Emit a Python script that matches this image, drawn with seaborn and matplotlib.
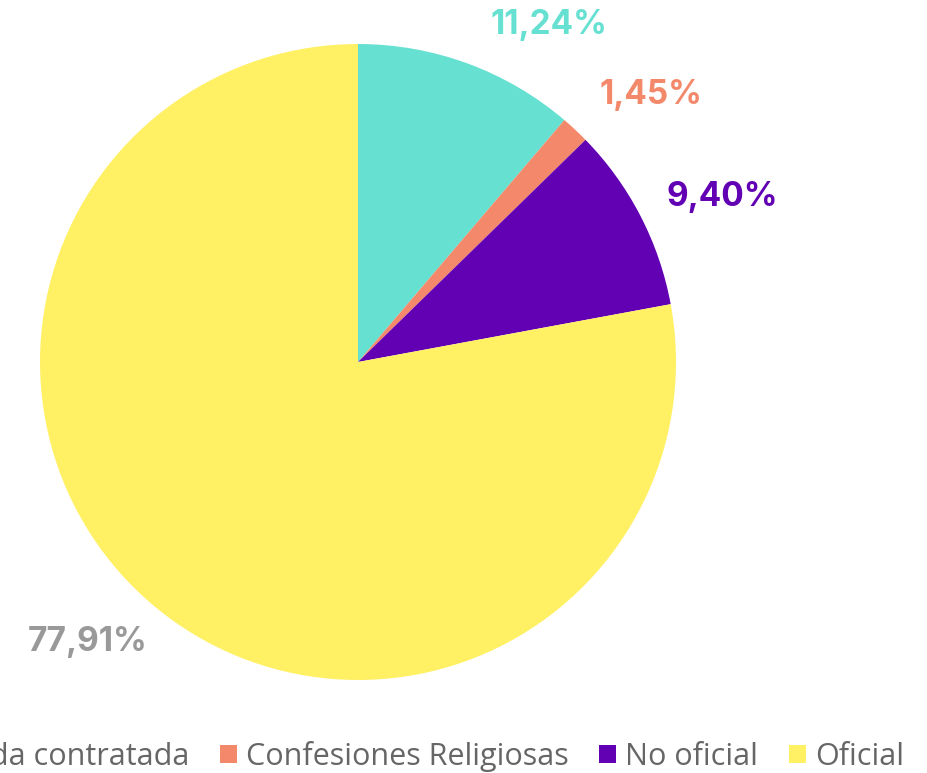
import matplotlib
matplotlib.use("Agg")
import matplotlib.pyplot as plt
import seaborn as sns

categories = ["Privada contratada", "Confesiones Religiosas", "No oficial", "Oficial"]
values = [11.24, 1.45, 9.40, 77.91]
labels = ["11,24%", "1,45%", "9,40%", "77,91%"]
colors = ["#66E0D1", "#F3896A", "#6200B3", "#FFF064"]
label_colors = ["#66E0D1", "#F3896A", "#6200B3", "#999999"]
# label centre positions, in pie-radius units
label_pos = [(0.60, 1.06), (0.92, 0.84), (1.145, 0.52), (-0.85, -0.88)]

sns.set_theme(style="white")
plt.rcParams['font.family'] = ['Open Sans', 'DejaVu Sans']

fig = plt.figure(figsize=(9.28, 7.73), dpi=100)
ax = fig.add_axes([40 / 928, 1 - 680 / 773, 636 / 928, 636 / 773])
wedges, _ = ax.pie(values, colors=sns.color_palette(colors), startangle=90,
                   counterclock=False, radius=1,
                   wedgeprops=dict(linewidth=0))
ax.set_xlim(-1, 1)
ax.set_ylim(-1, 1)
ax.set_aspect("equal")
ax.axis("off")

for (x, y), txt, c in zip(label_pos, labels, label_colors):
    ax.text(x, y, txt, ha="center", va="center", color=c, family=["Inter", "DejaVu Sans"],
            fontsize=24, fontweight="bold", clip_on=False)

fig.legend(wedges, categories, loc="lower right", ncol=4,
           bbox_to_anchor=(916 / 928, -0.014), frameon=False,
           fontsize=22, labelcolor="#666666", handlelength=0.55,
           handleheight=0.55, handletextpad=0.3, columnspacing=1.0,
           borderaxespad=0)

fig.savefig("out.png", dpi=100)
